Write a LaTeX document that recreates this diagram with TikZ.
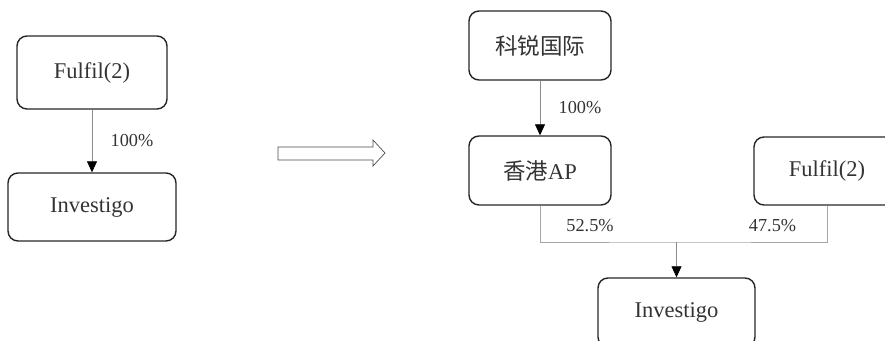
\documentclass[tikz,border=0pt]{standalone}
\usepackage{fontspec}
\setmainfont{Liberation Serif}
\newfontfamily\cjk{Noto Sans CJK SC}
\usetikzlibrary{arrows.meta}
\begin{document}
\begin{tikzpicture}[
  entity/.style={draw=black!85, thick, rounded corners=0.2cm, text=black!80,
    font=\fontsize{12.8}{14}\selectfont, inner sep=0pt},
  share/.style={draw=black!45, -{Triangle[black,length=0.22cm,width=0.2cm]}},
  link/.style={draw=black!35},
  pct/.style={text=black!80, font=\fontsize{10.4}{12}\selectfont},
]
%general params
\def\bw{2.84} %box width
\def\bh{1.38} %box height

\useasboundingbox (0,0) rectangle (17.7,6.8);

%before
\node[entity, minimum width=3.0cm, minimum height=1.46cm] (fulfilA) at (1.84,5.35) {Fulfil(2)};
\node[entity, minimum width=3.36cm, minimum height=1.36cm] (investA) at (1.84,2.66) {Investigo};
\draw[share] (fulfilA) -- (investA) node[pct, midway, right=0.25cm] {100\%};

%hollow arrow
\draw[black!70, fill=white] (5.56,3.6) -- (7.46,3.6) -- (7.46,3.48) -- (7.7,3.74)
  -- (7.46,4.0) -- (7.46,3.86) -- (5.56,3.86) -- cycle;

%after
\node[entity, minimum width=\bw cm, minimum height=\bh cm] (kerui) at (10.8,5.89) {\cjk 科锐国际};
\node[entity, minimum width=\bw cm, minimum height=\bh cm] (hkap) at (10.8,3.39) {{\cjk 香港}AP};
\node[entity, minimum width=2.92cm, minimum height=1.36cm] (fulfilB) at (16.54,3.38) {Fulfil(2)};
\node[entity, minimum width=3.14cm, minimum height=\bh cm] (investB) at (13.53,0.55) {Investigo};
\coordinate (join) at (investB.north |- 0,1.96);

\draw[share] (kerui) -- (hkap) node[pct, midway, right=0.25cm] {100\%};
\draw[link] (hkap.south) |- (join) -| (fulfilB.south);
\draw[share] (join) -- (investB);

\node[pct] (pctA) at (11.8,2.28) {52.5\%};
\node[pct] (pctB) at (15.45,2.28) {47.5\%};

\end{tikzpicture}
\end{document}
